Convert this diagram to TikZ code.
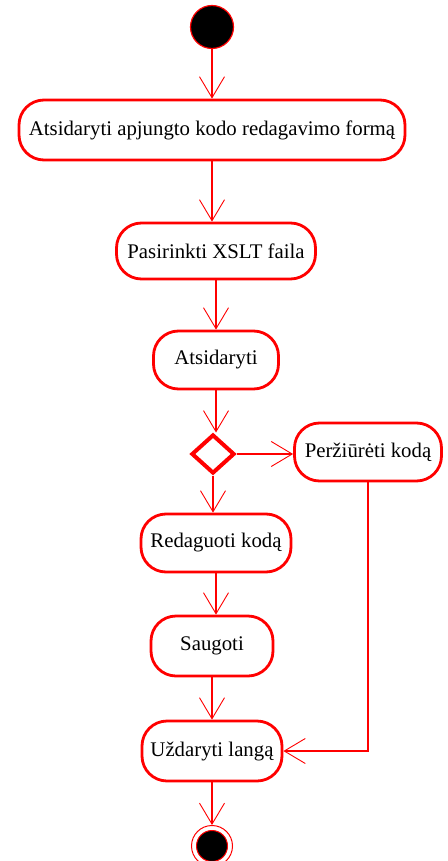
\documentclass[tikz,border=0pt]{standalone}
\usepackage{fontspec}
\setmainfont{Liberation Serif}
\usetikzlibrary{arrows.meta,shapes.geometric}
\begin{document}
\begin{tikzpicture}[x=1pt,y=-1pt,
  act/.style={draw=red, line width=2.8pt, fill=white, rounded corners=25pt,
    inner sep=0pt, font=\fontsize{20.8}{23}\selectfont, text=black},
  flow/.style={draw=red, line width=1.2pt,
    -{Straight Barb[length=21pt,width=25pt,line width=0.9pt]}},
  choice/.style={diamond, draw=red, line width=4pt, fill=white, inner sep=0pt,
    minimum width=43pt, minimum height=39pt},
]
\useasboundingbox (0,0) rectangle (447,861);
\fill[white] (0,0) rectangle (447,861);

% initial state
\node[circle, draw=red, line width=1.2pt, fill=black, minimum size=43pt, inner sep=0pt] (start) at (212,27) {};

% activities
\node[act, minimum width=386pt, minimum height=60pt] (open) at (212,130) {Atsidaryti apjungto kodo redagavimo formą};
\node[act, minimum width=199pt, minimum height=56pt] (pick) at (216,251) {Pasirinkti XSLT faila};
\node[act, minimum width=125pt, minimum height=58pt] (load) at (216,360) {Atsidaryti};
\node[choice] (dec) at (213,454) {};
\node[act, minimum width=147pt, minimum height=58pt] (view) at (368,452) {Peržiūrėti kodą};
\node[act, minimum width=150pt, minimum height=58pt] (edit) at (216,543) {Redaguoti kodą};
\node[act, minimum width=122pt, minimum height=60pt] (save) at (212,646) {Saugoti};
\node[act, minimum width=140pt, minimum height=60pt] (close) at (212,751) {Uždaryti langą};

% final state: ring around a filled disc
\node[circle, draw=red, line width=1pt, fill=white, minimum size=41pt, inner sep=0pt] (stop) at (212,846) {};
\node[circle, draw=red, line width=1pt, fill=black, minimum size=31pt, inner sep=0pt] (stopcore) at (212,846) {};

% transitions
\draw[flow] (start.south) -- (start.south |- open.north);
\draw[flow] (open.south) -- (open.south |- pick.north);
\draw[flow] (pick.south) -- (pick.south |- load.north);
\draw[flow] (load.south) -- (load.south |- dec.north);
\draw[flow] (dec.east) -- (dec.east -| view.west);
\draw[flow] (dec.south) -- (dec.south |- edit.north);
\draw[flow] (edit.south) -- (edit.south |- save.north);
\draw[flow] (save.south) -- (save.south |- close.north);
\draw[flow] (view.south) |- (close.east);
\draw[flow] (close.south) -- (close.south |- stop.north);
\end{tikzpicture}
\end{document}
